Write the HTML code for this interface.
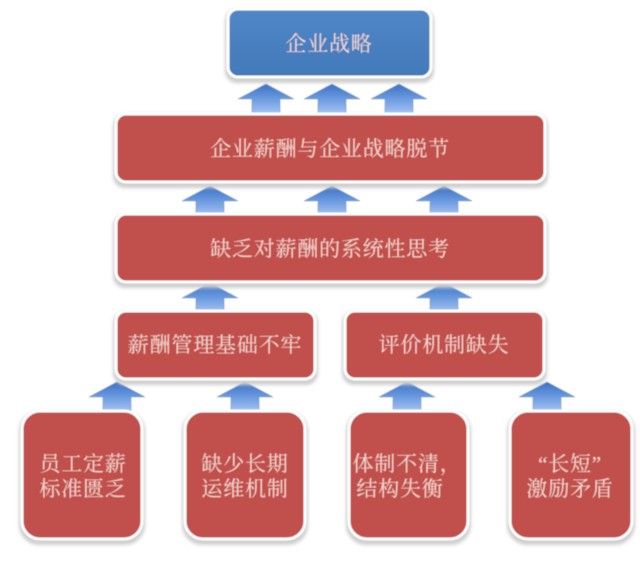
<!DOCTYPE html>
<html><head><meta charset="utf-8">
<style>
html,body{margin:0;padding:0;background:#fff}
svg{display:block}
text{font-family:"Liberation Serif","Noto Serif CJK SC",serif;font-size:21px;fill:#f7d8d2;text-anchor:middle;letter-spacing:.8px}
</style></head><body>
<svg width="640" height="566" viewBox="0 0 640 566" xmlns="http://www.w3.org/2000/svg">
<defs>
<linearGradient id="a" gradientUnits="objectBoundingBox" x1="0" y1="0" x2="0" y2="1"><stop offset="0" stop-color="#3a70c4"/><stop offset=".5" stop-color="#6c9be0"/><stop offset="1" stop-color="#a6c4f4"/></linearGradient>
<linearGradient id="b" x1="0" y1="0" x2="0" y2="1"><stop offset="0" stop-color="#5187c8"/><stop offset="1" stop-color="#4279b9"/></linearGradient>
<filter id="s" x="-10%" y="-15%" width="120%" height="130%"><feGaussianBlur stdDeviation="1.6"/></filter>
<filter id="g" x="-2%" y="-2%" width="104%" height="104%"><feGaussianBlur stdDeviation=".55"/></filter>
<g id="ar"><path d="M0 0L28 15H14V30H-14V15H-28Z" fill="url(#a)" stroke="#6d8fbf" stroke-width=".6"/></g>
</defs>

<g filter="url(#g)">
<rect width="640" height="566" fill="#fff"/>
<g>
<use href="#ar" x="266" y="84"/><use href="#ar" x="332" y="84"/><use href="#ar" x="399" y="84"/>
<use href="#ar" x="210" y="186"/><use href="#ar" x="332" y="186"/><use href="#ar" x="444" y="186"/>
<use href="#ar" x="210" y="283"/><use href="#ar" x="444" y="283"/>
<use href="#ar" x="117" y="382"/><use href="#ar" x="245" y="382"/><use href="#ar" x="407" y="382"/><use href="#ar" x="547" y="382"/>
</g>

<g fill="#cfcfcf" filter="url(#s)">
<rect x="225" y="9" width="209" height="74" rx="12"/>
<rect x="113" y="114" width="435" height="74" rx="12"/>
<rect x="113" y="214" width="435" height="74" rx="12"/>
<rect x="113" y="311" width="205" height="74" rx="12"/>
<rect x="342" y="311" width="205" height="74" rx="12"/>
<rect x="19" y="411" width="126" height="134" rx="20"/>
<rect x="182" y="411" width="126" height="134" rx="20"/>
<rect x="346" y="411" width="125" height="134" rx="20"/>
<rect x="507" y="411" width="128" height="134" rx="20"/>
</g>

<g stroke="#fff" stroke-width="3" fill="#c14f4c">
<rect x="228" y="9" width="203" height="68" rx="10" fill="url(#b)"/>
<rect x="116" y="114" width="429" height="68" rx="10"/>
<rect x="116" y="214" width="429" height="68" rx="10"/>
<rect x="116" y="311" width="199" height="68" rx="10"/>
<rect x="345" y="311" width="199" height="68" rx="10"/>
<rect x="22" y="411" width="120" height="128" rx="18"/>
<rect x="185" y="411" width="120" height="128" rx="18"/>
<rect x="349" y="411" width="119" height="128" rx="18"/>
<rect x="510" y="411" width="122" height="128" rx="18"/>
</g>

<g>
<text x="329" y="51">企业战略</text>
<text x="330" y="156">企业薪酬与企业战略脱节</text>
<text x="330" y="256">缺乏对薪酬的系统性思考</text>
<text x="215" y="352">薪酬管理基础不牢</text>
<text x="444" y="352">评价机制缺失</text>
<text x="83" y="471">员工定薪</text>
<text x="83" y="496">标准匮乏</text>
<text x="245" y="471">缺少长期</text>
<text x="245" y="496">运维机制</text>
<text x="407" y="471">体制不清，</text>
<text x="400" y="496">结构失衡</text>
<text x="570" y="471">“长短”</text>
<text x="570" y="496">激励矛盾</text>
</g>
</g>
</svg>
</body></html>
